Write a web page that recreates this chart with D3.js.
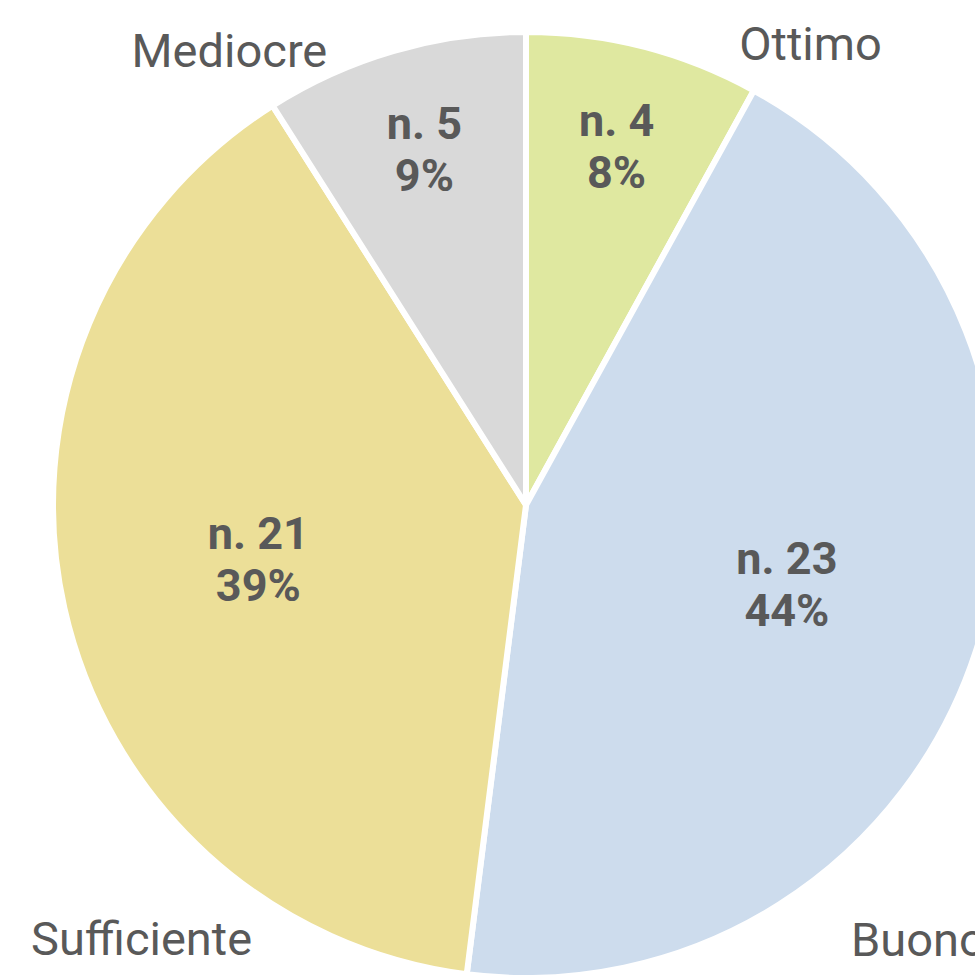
<!DOCTYPE html>
<html>
<head>
<meta charset="utf-8">
<script src="https://cdn.jsdelivr.net/npm/d3@7"></script>
<style>
  body { margin: 0; background: #fff; }
  svg { display: block; }
</style>
</head>
<body>
<div id="container"></div>
<script>
/* DATA */
const categories = ["Ottimo", "Buono", "Sufficiente", "Mediocre"];
const counts = [4, 23, 21, 5];
const percents = [8, 44, 39, 9]; // slices are sized by these
const colors = ["#dfe8a0", "#cddced", "#ecdf98", "#d9d9d9"];

/* Constants */
const width = 975, height = 975,
    cx = 526, cy = 505,
    radius = 473;

// where the category names sit: angle (deg from top, clockwise), distance from centre
const namePos = {
  Ottimo: [32.6, 528],
  Buono: [139, 598],
  Sufficiente: [220.5, 592],
  Mediocre: [325.9, 529]
};

const data = categories.map((c, i) => ({name: c, count: counts[i], pct: percents[i], color: colors[i]}));

const svg = d3.select("#container")
  .append("svg")
  .attr("width", width)
  .attr("height", height);

const g = svg.append("g").attr("transform", `translate(${cx},${cy})`);

const pie = d3.pie().sort(null).value(d => d.pct);
const arcs = pie(data);

const arc = d3.arc().innerRadius(0).outerRadius(radius);

g.selectAll("path.slice")
  .data(arcs)
  .join("path")
  .attr("class", "slice")
  .attr("d", arc)
  .attr("fill", d => d.data.color)
  .attr("stroke", "#fff")
  .attr("stroke-width", 6)
  .attr("stroke-linejoin", "round");

// inner labels: small slices further out
const labelPos = d => {
  const span = d.endAngle - d.startAngle;
  const r = span < Math.PI / 4 ? radius * 0.77 : radius * 0.58;
  const a = (d.startAngle + d.endAngle) / 2;
  return [Math.sin(a) * r, -Math.cos(a) * r];
};

const inner = g.selectAll("text.inner")
  .data(arcs)
  .join("text")
  .attr("class", "inner")
  .attr("transform", d => `translate(${labelPos(d)})`)
  .attr("text-anchor", "middle")
  .attr("font-family", "Roboto, sans-serif")
  .attr("font-weight", "bold")
  .attr("font-size", 45)
  .attr("fill", "#595959");

inner.append("tspan").attr("x", 0).attr("dy", -16).text(d => "n. " + d.data.count);
inner.append("tspan").attr("x", 0).attr("dy", 52).text(d => d.data.pct + "%");

// category names outside
g.selectAll("text.name")
  .data(arcs)
  .join("text")
  .attr("class", "name")
  .attr("x", d => Math.sin(namePos[d.data.name][0] * Math.PI / 180) * namePos[d.data.name][1])
  .attr("y", d => -Math.cos(namePos[d.data.name][0] * Math.PI / 180) * namePos[d.data.name][1])
  .attr("text-anchor", "middle")
  .attr("font-family", "Roboto, sans-serif")
  .attr("font-size", 47)
  .attr("fill", "#595959")
  .text(d => d.data.name);
</script>
</body>
</html>
